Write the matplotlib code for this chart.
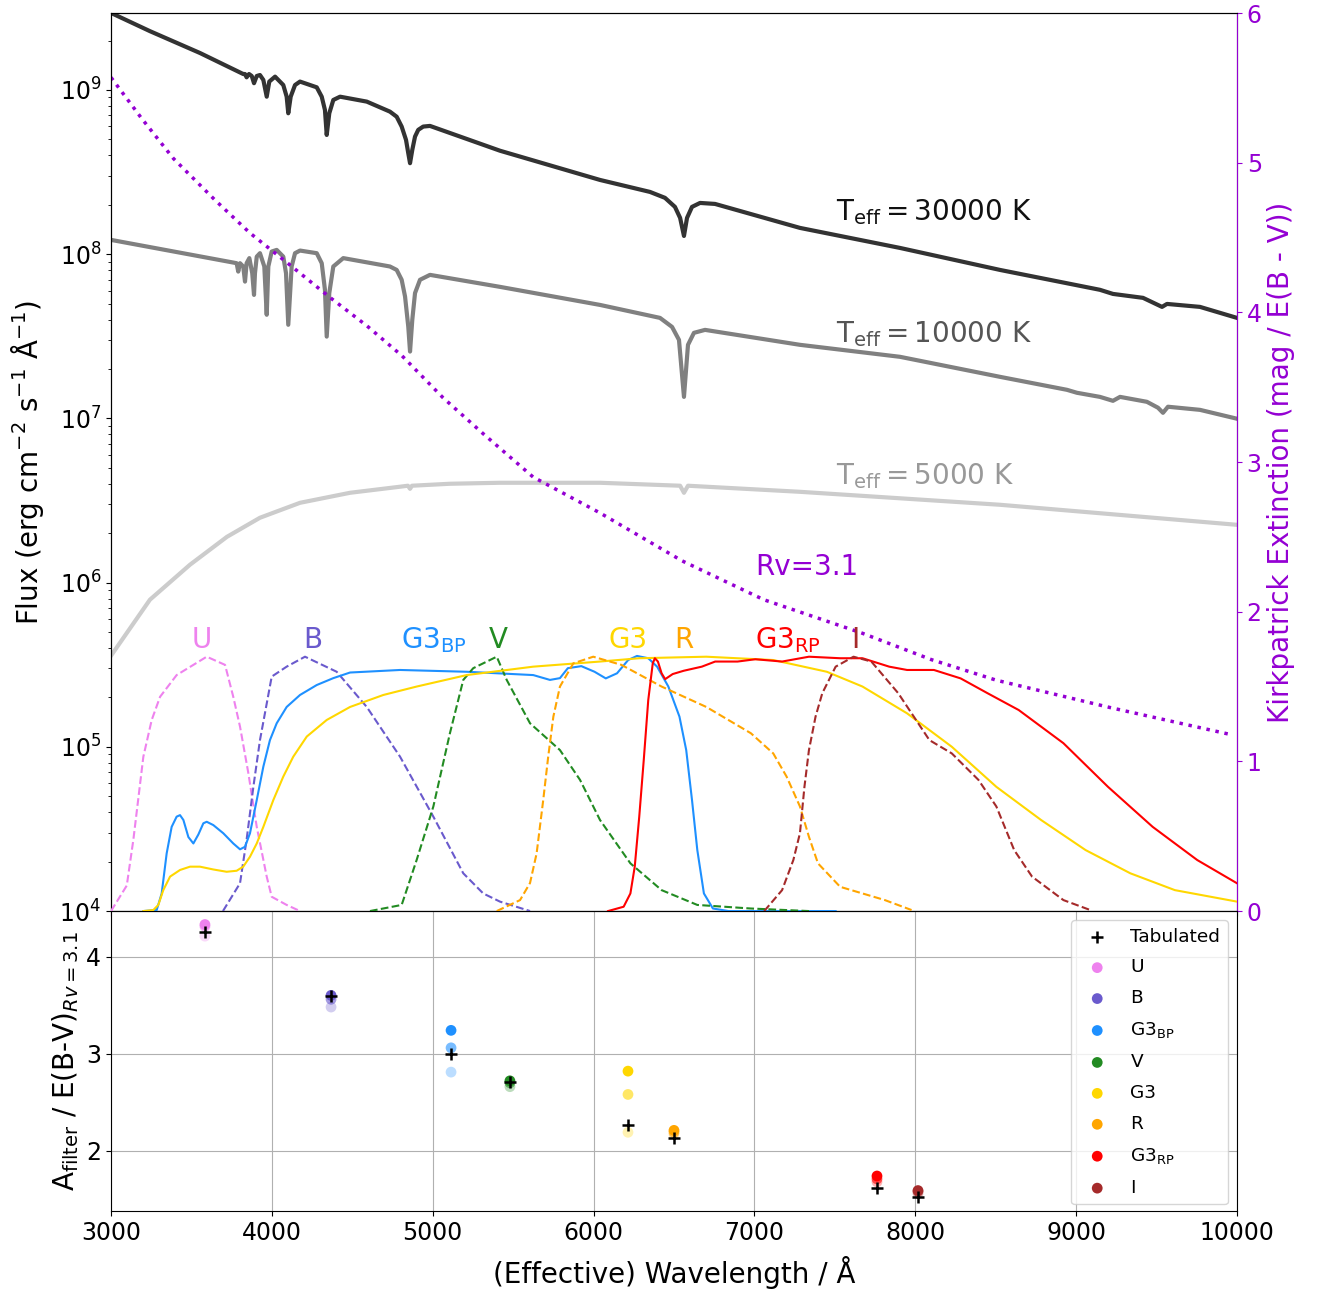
import numpy as np
import matplotlib
matplotlib.use('Agg')
import matplotlib.pyplot as plt

# ---------------- model spectra: wavelength (A) and log10 flux ----------------
wl_30k = [3000, 3242, 3553, 3822, 3833, 3843, 3858, 3875, 3889, 3906, 3926, 3947, 3968,
          3984, 4020, 4071, 4092, 4102, 4117, 4144, 4175, 4279, 4310, 4330, 4341, 4357,
          4382, 4424, 4590, 4734, 4776, 4807, 4834, 4848, 4859, 4873, 4890, 4910, 4941,
          4983, 5418, 6040, 6351, 6444, 6506, 6538, 6562, 6581, 6612, 6662, 6755, 7283,
          7905, 8527, 9148, 9229, 9416, 9534, 9565, 9770, 10000]
logf_30k = [9.469, 9.358, 9.225, 9.097, 9.097, 9.077, 9.097, 9.085, 9.041, 9.085, 9.091, 9.061, 8.959,
            9.051, 9.081, 9.030, 8.959, 8.858, 8.959, 9.030, 9.051, 9.016, 8.959, 8.878, 8.726, 8.858,
            8.939, 8.959, 8.929, 8.868, 8.837, 8.777, 8.696, 8.615, 8.554, 8.635, 8.716, 8.757, 8.777,
            8.781, 8.630, 8.452, 8.379, 8.343, 8.288, 8.221, 8.111, 8.221, 8.288, 8.312, 8.306, 8.160,
            8.038, 7.904, 7.783, 7.758, 7.734, 7.679, 7.697, 7.679, 7.612]

wl_10k = [3000, 3760, 3781, 3791, 3802, 3822, 3833, 3843, 3860, 3878, 3889, 3895, 3906, 3926,
          3953, 3968, 3978, 3999, 4030, 4071, 4088, 4102, 4123, 4144, 4175, 4279, 4310, 4330,
          4341, 4357, 4382, 4444, 4734, 4776, 4807, 4828, 4848, 4859, 4873, 4890, 4921, 4983,
          5418, 6040, 6413, 6488, 6531, 6562, 6587, 6624, 6693, 7283, 7905, 8527, 8943, 9005,
          9148, 9229, 9273, 9440, 9509, 9540, 9571, 9770, 10000]
logf_10k = [8.087, 7.949, 7.945, 7.894, 7.945, 7.925, 7.833, 7.945, 7.976, 7.884, 7.752, 7.884, 7.985, 8.006,
            7.925, 7.631, 7.925, 8.016, 8.026, 7.985, 7.884, 7.570, 7.925, 8.006, 8.022, 8.006, 7.945, 7.783,
            7.498, 7.763, 7.925, 7.976, 7.925, 7.904, 7.844, 7.742, 7.559, 7.407, 7.600, 7.763, 7.844, 7.874,
            7.801, 7.691, 7.612, 7.557, 7.478, 7.131, 7.448, 7.521, 7.539, 7.448, 7.375, 7.253, 7.174, 7.156,
            7.131, 7.107, 7.131, 7.101, 7.065, 7.034, 7.071, 7.052, 6.998]

wl_5k = [3000, 3242, 3491, 3721, 3926, 4175, 4486, 4797, 4846, 4859, 4871, 5107,
         5418, 6040, 6538, 6562, 6587, 7283, 8527, 10000]
logf_5k = [5.555, 5.896, 6.109, 6.279, 6.395, 6.486, 6.547, 6.584, 6.590, 6.571, 6.590, 6.602,
           6.608, 6.608, 6.590, 6.547, 6.590, 6.553, 6.474, 6.352]

# ---------------- Kirkpatrick extinction curve (Rv=3.1) ----------------
wl_ext = [3000, 3191, 3388, 3647, 3864, 4113, 4361, 4591, 4809, 5064, 5313, 5624, 6040,
          6550, 7059, 7669, 8100, 8502, 9210, 9975]
a_ext = [5.57, 5.295, 5.028, 4.75, 4.53, 4.316, 4.10, 3.91, 3.71, 3.43, 3.19, 2.90, 2.66,
         2.34, 2.08, 1.857, 1.68, 1.543, 1.36, 1.176]

# ---------------- normalised filter throughputs ----------------
wl_U = [3000, 3098, 3139, 3201, 3253, 3305, 3408, 3512, 3595, 3709, 3760, 3802, 3854,
        3906, 3968, 3999, 4092, 4175]
tr_U = [0.0, 0.10, 0.28, 0.605, 0.749, 0.84, 0.925, 0.965, 0.997, 0.965, 0.84, 0.723, 0.54,
        0.33, 0.135, 0.056, 0.024, 0.0]

wl_B = [3696, 3802, 3843, 3885, 3926, 3999, 4092, 4206, 4403, 4590, 4797, 5004, 5190,
        5314, 5418, 5605]
tr_B = [0.0, 0.109, 0.28, 0.487, 0.67, 0.919, 0.958, 0.997, 0.938, 0.80, 0.605, 0.37, 0.148,
        0.069, 0.037, 0.0]

wl_V = [4610, 4807, 4900, 5004, 5107, 5190, 5252, 5398, 5460, 5605, 5791, 5916, 6040,
        6229, 6423, 6645, 6978, 7339]
tr_V = [0.0, 0.024, 0.20, 0.41, 0.697, 0.906, 0.952, 0.997, 0.906, 0.736, 0.631, 0.514, 0.357,
        0.187, 0.082, 0.024, 0.01, 0.0]

wl_R = [5398, 5543, 5605, 5646, 5687, 5718, 5750, 5791, 5874, 5998, 6173, 6423, 6701,
        6978, 7117, 7200, 7283, 7339, 7395, 7533, 7811, 7977]
tr_R = [0.0, 0.043, 0.11, 0.226, 0.435, 0.605, 0.762, 0.88, 0.971, 0.997, 0.965, 0.88, 0.80,
        0.697, 0.618, 0.527, 0.41, 0.291, 0.187, 0.095, 0.043, 0.004]

wl_I = [7061, 7172, 7242, 7283, 7311, 7339, 7380, 7422, 7505, 7616, 7727, 7894, 8088,
        8227, 8393, 8504, 8615, 8726, 8921, 9088]
tr_I = [0.0, 0.082, 0.20, 0.305, 0.487, 0.631, 0.762, 0.854, 0.958, 0.997, 0.978, 0.854, 0.67,
        0.618, 0.514, 0.41, 0.239, 0.135, 0.043, 0.004]

wl_BP = [3201, 3284, 3315, 3346, 3377, 3408, 3429, 3450, 3481, 3512, 3543, 3574, 3595,
         3636, 3698, 3760, 3802, 3833, 3864, 3906, 3947, 3988, 4030, 4092, 4175, 4279,
         4382, 4486, 4797, 5211, 5625, 5729, 5791, 5840, 5924, 6006, 6076, 6146, 6215,
         6270, 6340, 6395, 6465, 6534, 6576, 6612, 6645, 6686, 6742, 6839, 7505]
tr_BP = [0.0, 0.004, 0.069, 0.226, 0.33, 0.37, 0.376, 0.357, 0.29, 0.265, 0.30, 0.344, 0.35,
         0.337, 0.305, 0.265, 0.242, 0.252, 0.305, 0.435, 0.566, 0.67, 0.736, 0.80, 0.847, 0.886,
         0.913, 0.935, 0.945, 0.938, 0.925, 0.906, 0.913, 0.952, 0.96, 0.938, 0.912, 0.932, 0.984,
         1.0, 0.991, 0.958, 0.88, 0.762, 0.631, 0.435, 0.239, 0.069, 0.01, 0.0, 0.0]

wl_G = [3201, 3263, 3294, 3325, 3367, 3429, 3491, 3553, 3636, 3719, 3781, 3822, 3864,
        3906, 3947, 4009, 4071, 4133, 4217, 4341, 4486, 4693, 4900, 5211, 5625, 6040,
        6284, 6701, 7117, 7450, 7672, 7949, 8227, 8504, 8782, 9059, 9337, 9614, 10000]
tr_G = [0.0, 0.004, 0.024, 0.082, 0.135, 0.161, 0.174, 0.174, 0.163, 0.154, 0.158, 0.174, 0.213,
        0.265, 0.33, 0.435, 0.527, 0.605, 0.684, 0.749, 0.80, 0.847, 0.88, 0.925, 0.958, 0.978,
        0.991, 0.997, 0.984, 0.938, 0.88, 0.775, 0.644, 0.487, 0.357, 0.239, 0.148, 0.082, 0.037]

wl_RP = [6090, 6187, 6229, 6256, 6284, 6312, 6340, 6368, 6381, 6400, 6423, 6445, 6492,
         6561, 6673, 6756, 6895, 7006, 7172, 7339, 7533, 7672, 7838, 7949, 8116, 8282,
         8449, 8643, 8921, 9198, 9476, 9753, 10000]
tr_RP = [0.0, 0.017, 0.069, 0.174, 0.37, 0.592, 0.827, 0.971, 0.991, 0.978, 0.932, 0.909, 0.929,
         0.942, 0.958, 0.978, 0.978, 0.987, 0.978, 0.997, 0.991, 0.991, 0.958, 0.945, 0.945, 0.912,
         0.854, 0.788, 0.658, 0.487, 0.33, 0.20, 0.109]

# ---------------- extinction coefficients per filter ----------------
filters = ['U', 'B', 'G3_BP', 'V', 'G3', 'R', 'G3_RP', 'I']
labels = ['U', 'B', r'G3$_{\rm BP}$', 'V', 'G3', 'R', r'G3$_{\rm RP}$', 'I']
colors = ['violet', 'slateblue', 'dodgerblue', 'forestgreen', 'gold', 'orange', 'red', 'brown']
wl_eff = [3584, 4368, 5114, 5480, 6214, 6500, 7762, 8017]
coef_30k = [4.33, 3.60, 3.24, 2.72, 2.82, 2.21, 1.74, 1.59]
coef_10k = [4.31, 3.56, 3.06, 2.70, 2.58, 2.19, 1.71, 1.58]
coef_5k = [4.21, 3.48, 2.81, 2.66, 2.19, 2.17, 1.68, 1.56]
coef_tab = [4.25, 3.59, 3.00, 2.71, 2.27, 2.13, 1.62, 1.52]

PURPLE = 'darkviolet'

fig = plt.figure(figsize=(13.2, 12.91), dpi=100)
ax = fig.add_axes([0.0841, 0.2943, 0.853, 0.6956])
axb = fig.add_axes([0.0841, 0.062, 0.853, 0.2324], sharex=ax)

# spectra
ax.plot(wl_30k, 10 ** np.array(logf_30k), color='#333333', lw=3)
ax.plot(wl_10k, 10 ** np.array(logf_10k), color='#808080', lw=3)
ax.plot(wl_5k, 10 ** np.array(logf_5k), color='#cccccc', lw=3)
ax.set_yscale('log')
ax.set_ylim(1e4, 2.94e9)
ax.set_xlim(3000, 10000)
ax.set_ylabel(r'Flux (erg cm$^{-2}$ s$^{-1}$ $\mathrm{\AA}^{-1}$)', fontsize=20, labelpad=10)
ax.tick_params(labelsize=17, labelbottom=False)

ax.text(7510, 1.6e8, r'$\mathrm{T_{eff} = 30000\ K}$', fontsize=20, color='#111111')
ax.text(7510, 2.92e7, r'$\mathrm{T_{eff} = 10000\ K}$', fontsize=20, color='#555555')
ax.text(7510, 3.95e6, r'$\mathrm{T_{eff} = 5000\ K}$', fontsize=20, color='#999999')

# extinction on right axis
ax2 = ax.twinx()
ax2.plot(wl_ext, a_ext, color=PURPLE, ls=':', lw=2.5)
ax2.set_ylim(0, 6)
ax2.set_ylabel('Kirkpatrick Extinction (mag / E(B - V))', color=PURPLE, fontsize=20)
ax2.tick_params(colors=PURPLE, labelsize=17)
ax2.spines['right'].set_color(PURPLE)
ax2.text(7004, 2.245, 'Rv=3.1', color=PURPLE, fontsize=20)

# filter curves on hidden axis
ax3 = ax.twinx()
ax3.set_ylim(0, 3.52)
ax3.set_axis_off()
curves = [(wl_U, tr_U, '--'), (wl_B, tr_B, '--'), (wl_BP, tr_BP, '-'), (wl_V, tr_V, '--'),
          (wl_G, tr_G, '-'), (wl_R, tr_R, '--'), (wl_RP, tr_RP, '-'), (wl_I, tr_I, '--')]
for (w, t, ls), c in zip(curves, colors):
    ax3.plot(w, t, ls=ls, color=c, lw=1.5)
label_wl = [3566, 4256, 5008, 5406, 6214, 6562, 7209, 7625]
for x, lab, c in zip(label_wl, labels, colors):
    ax3.text(x, 1.03, lab, color=c, fontsize=20, ha='center', va='baseline')

# bottom panel
for coef, al in [(coef_5k, 0.3), (coef_10k, 0.6)]:
    axb.scatter(wl_eff, coef, c=colors, s=60, alpha=al, edgecolors='none', zorder=3)
handles = []
h_tab = axb.scatter(wl_eff, coef_tab, marker='+', c='k', s=70, linewidths=1.8,
                    zorder=5, label='Tabulated')
handles.append(h_tab)
for x, y, c, lab in zip(wl_eff, coef_30k, colors, labels):
    handles.append(axb.scatter([x], [y], c=c, s=60, edgecolors='none', zorder=4, label=lab))
axb.legend(handles=handles, loc='upper right', fontsize=13.3, scatterpoints=1,
           labelspacing=0.7)
axb.grid(True)
axb.set_ylim(1.38, 4.47)
axb.set_yticks([2, 3, 4])
axb.set_xticks(range(3000, 10001, 1000))
axb.tick_params(labelsize=17)
axb.set_xlabel('(Effective) Wavelength / Å', fontsize=20, labelpad=8)
axb.set_ylabel(r'A$_{\rm filter}$ / E(B-V)$_{Rv=3.1}$', fontsize=20)

fig.savefig('out.png', dpi=100)
